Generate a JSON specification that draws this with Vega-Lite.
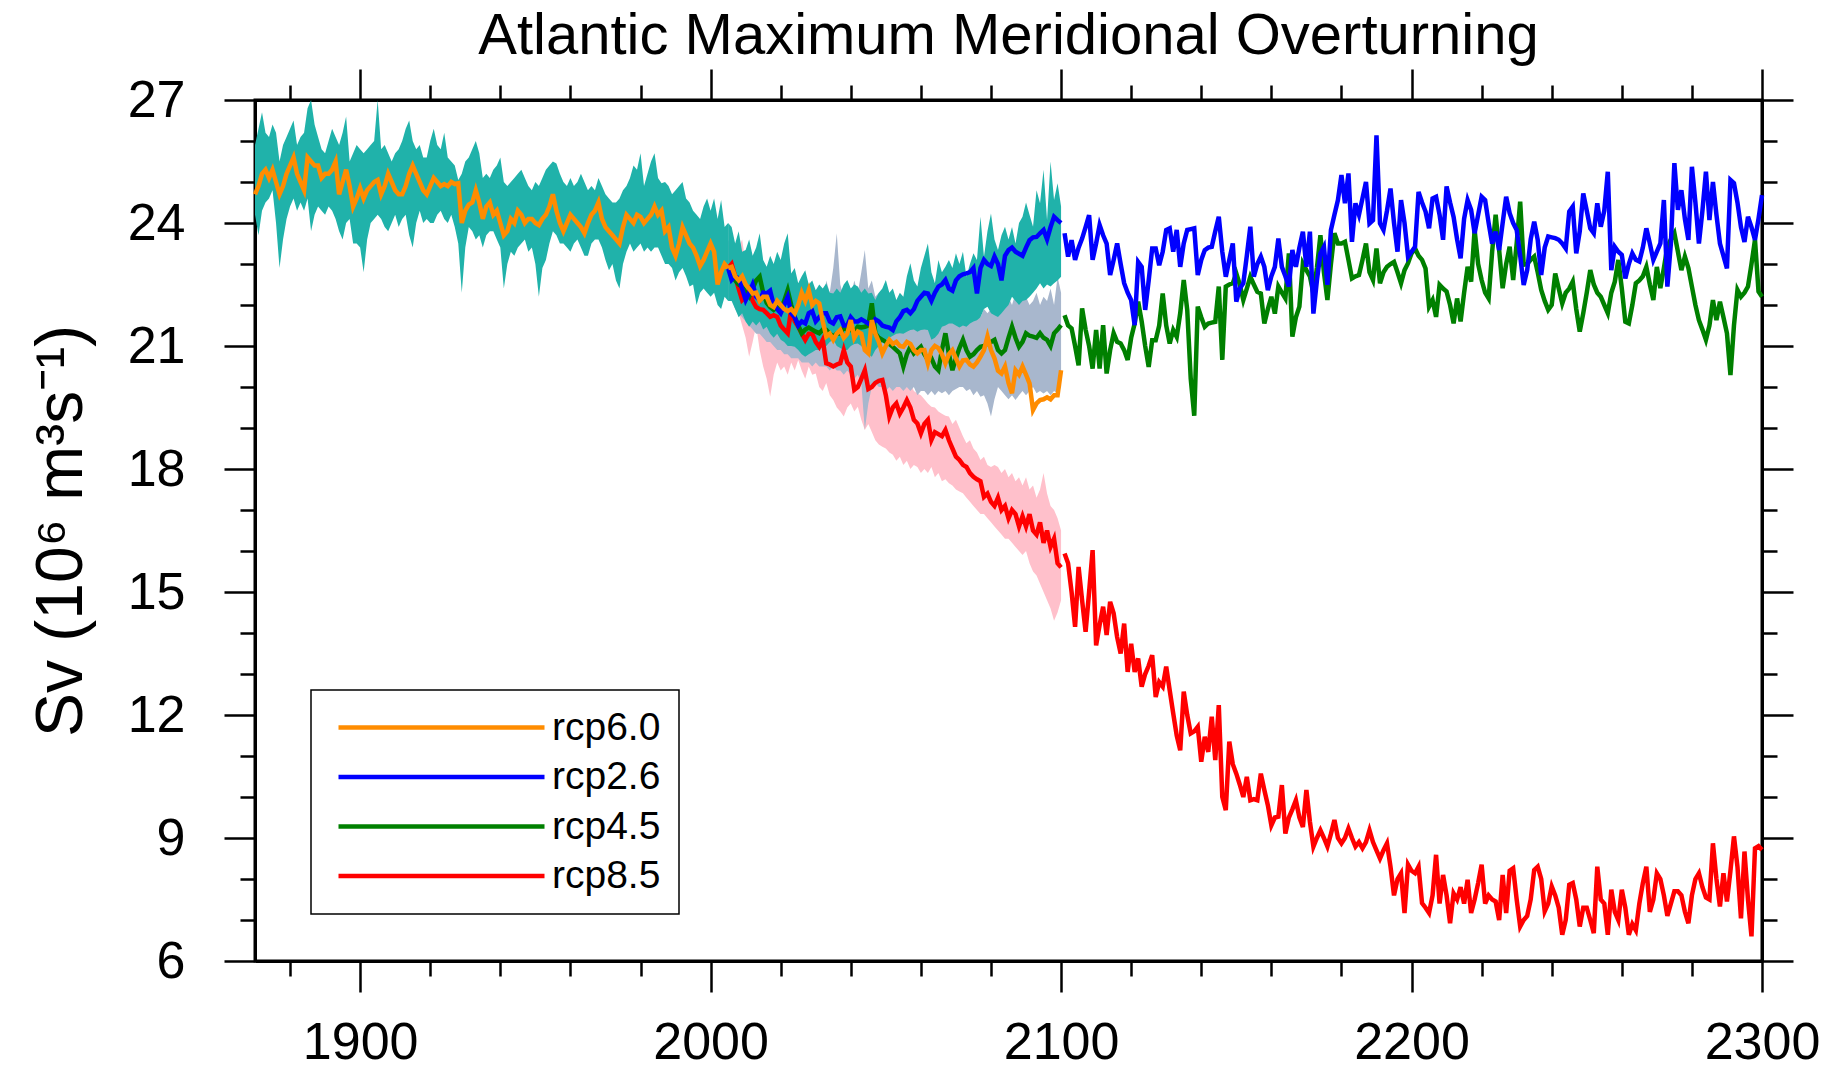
{
"$schema": "https://vega.github.io/schema/vega-lite/v6.json",
"width": 1507, "height": 861,
"autosize": "none",
"padding": {"left": 255, "top": 100, "right": 81, "bottom": 116},
"background": "white",
"config": {
  "font": "Liberation Sans",
  "view": {"stroke": "black", "strokeWidth": 3},
  "axis": {"grid": false, "domainColor": "black", "domainWidth": 3, "tickColor": "black", "tickWidth": 2.5, "labelColor": "black", "labelFont": "Liberation Sans", "labelFontSize": 52, "labelFlush": false, "labelOverlap": false, "labelBound": false, "titleFont": "Liberation Sans", "titleColor": "black", "titleFontWeight": "normal"}
},
"title": {"text": "Atlantic Maximum Meridional Overturning", "fontSize": 58, "font": "Liberation Sans", "fontWeight": "normal", "color": "black", "anchor": "middle", "frame": "group", "baseline": "alphabetic", "offset": -44},
"datasets": {
"hist": [
{"t":1870,"m":24.7,"lo":24.2,"hi":25.9},{"t":1871,"m":24.9,"lo":23.7,"hi":26.3},{"t":1872,"m":25.2,"lo":24.3,"hi":26.7},{"t":1873,"m":25.3,"lo":24.5,"hi":26.2},{"t":1874,"m":25.1,"lo":24.6,"hi":26.1},{"t":1875,"m":25.3,"lo":24.8,"hi":26.4},{"t":1876,"m":25.0,"lo":24.0,"hi":26.2},{"t":1877,"m":24.7,"lo":22.9,"hi":25.5},{"t":1878,"m":24.9,"lo":23.6,"hi":25.9},{"t":1879,"m":25.2,"lo":24.1,"hi":26.1},
{"t":1880,"m":25.4,"lo":24.4,"hi":26.3},{"t":1881,"m":25.6,"lo":24.6,"hi":26.5},{"t":1882,"m":25.2,"lo":24.3,"hi":25.9},{"t":1883,"m":25.0,"lo":24.5,"hi":26.1},{"t":1884,"m":24.8,"lo":24.3,"hi":26.2},{"t":1885,"m":25.6,"lo":24.6,"hi":26.8},{"t":1886,"m":25.5,"lo":23.8,"hi":27.0},{"t":1887,"m":25.4,"lo":24.2,"hi":26.4},{"t":1888,"m":25.4,"lo":24.4,"hi":26.1},{"t":1889,"m":25.1,"lo":24.3,"hi":25.8},
{"t":1890,"m":25.2,"lo":24.2,"hi":25.7},{"t":1891,"m":25.2,"lo":24.4,"hi":26.0},{"t":1892,"m":25.3,"lo":24.3,"hi":26.3},{"t":1893,"m":25.5,"lo":24.1,"hi":26.1},{"t":1894,"m":24.7,"lo":23.8,"hi":25.9},{"t":1895,"m":25.0,"lo":23.6,"hi":26.2},{"t":1896,"m":25.3,"lo":24.0,"hi":26.6},{"t":1897,"m":24.9,"lo":24.1,"hi":25.5},{"t":1898,"m":24.4,"lo":23.5,"hi":25.7},{"t":1899,"m":24.6,"lo":23.5,"hi":25.9},
{"t":1900,"m":24.85,"lo":23.4,"hi":25.8},{"t":1901,"m":24.6,"lo":22.8,"hi":25.7},{"t":1902,"m":24.8,"lo":23.6,"hi":25.8},{"t":1903,"m":24.9,"lo":24.0,"hi":25.9},{"t":1904,"m":25.0,"lo":24.1,"hi":26.0},{"t":1905,"m":25.05,"lo":24.2,"hi":27.0},{"t":1906,"m":24.7,"lo":24.1,"hi":25.8},{"t":1907,"m":24.9,"lo":23.9,"hi":25.9},{"t":1908,"m":25.2,"lo":23.8,"hi":25.7},{"t":1909,"m":25.0,"lo":24.0,"hi":25.5},
{"t":1910,"m":24.8,"lo":24.2,"hi":25.7},{"t":1911,"m":24.7,"lo":23.9,"hi":25.8},{"t":1912,"m":24.7,"lo":24.1,"hi":26.0},{"t":1913,"m":24.9,"lo":24.2,"hi":26.3},{"t":1914,"m":25.2,"lo":23.7,"hi":26.5},{"t":1915,"m":25.4,"lo":23.4,"hi":26.0},{"t":1916,"m":25.2,"lo":24.0,"hi":25.8},{"t":1917,"m":25.0,"lo":24.3,"hi":25.9},{"t":1918,"m":24.8,"lo":24.0,"hi":25.6},{"t":1919,"m":24.7,"lo":24.1,"hi":25.6},
{"t":1920,"m":24.9,"lo":24.0,"hi":26.0},{"t":1921,"m":25.1,"lo":24.0,"hi":26.3},{"t":1922,"m":25.0,"lo":24.2,"hi":25.9},{"t":1923,"m":24.9,"lo":24.3,"hi":25.8},{"t":1924,"m":24.95,"lo":24.1,"hi":26.2},{"t":1925,"m":24.9,"lo":24.0,"hi":25.6},{"t":1926,"m":25.0,"lo":24.2,"hi":25.5},{"t":1927,"m":24.95,"lo":23.9,"hi":25.4},{"t":1928,"m":24.97,"lo":23.5,"hi":25.05},{"t":1929,"m":24.0,"lo":22.3,"hi":25.2},
{"t":1930,"m":24.3,"lo":23.4,"hi":25.5},{"t":1931,"m":24.45,"lo":23.9,"hi":25.6},{"t":1932,"m":24.5,"lo":23.8,"hi":25.8},{"t":1933,"m":24.8,"lo":23.6,"hi":26.0},{"t":1934,"m":24.5,"lo":23.7,"hi":25.7},{"t":1935,"m":24.1,"lo":23.4,"hi":25.1},{"t":1936,"m":24.4,"lo":23.7,"hi":25.2},{"t":1937,"m":24.5,"lo":23.8,"hi":25.1},{"t":1938,"m":24.2,"lo":23.8,"hi":25.3},{"t":1939,"m":24.3,"lo":23.6,"hi":25.4},
{"t":1940,"m":24.0,"lo":23.4,"hi":25.6},{"t":1941,"m":23.7,"lo":22.4,"hi":25.0},{"t":1942,"m":23.8,"lo":23.0,"hi":24.9},{"t":1943,"m":24.1,"lo":23.3,"hi":25.0},{"t":1944,"m":24.0,"lo":23.2,"hi":25.1},{"t":1945,"m":24.3,"lo":23.4,"hi":25.2},{"t":1946,"m":24.2,"lo":23.5,"hi":25.3},{"t":1947,"m":24.0,"lo":23.6,"hi":25.1},{"t":1948,"m":24.1,"lo":23.3,"hi":24.9},{"t":1949,"m":24.1,"lo":23.4,"hi":24.8},
{"t":1950,"m":24.0,"lo":23.0,"hi":25.0},{"t":1951,"m":23.95,"lo":22.2,"hi":24.9},{"t":1952,"m":24.1,"lo":22.9,"hi":25.1},{"t":1953,"m":24.2,"lo":23.1,"hi":25.3},{"t":1954,"m":24.4,"lo":23.5,"hi":25.4},{"t":1955,"m":24.7,"lo":23.8,"hi":25.5},{"t":1956,"m":24.3,"lo":23.7,"hi":25.45},{"t":1957,"m":24.0,"lo":23.5,"hi":25.2},{"t":1958,"m":23.8,"lo":23.5,"hi":25.0},{"t":1959,"m":24.0,"lo":23.4,"hi":24.9},
{"t":1960,"m":24.2,"lo":23.3,"hi":25.1},{"t":1961,"m":24.1,"lo":23.5,"hi":24.9},{"t":1962,"m":24.0,"lo":23.6,"hi":25.0},{"t":1963,"m":23.9,"lo":23.4,"hi":25.2},{"t":1964,"m":23.75,"lo":23.2,"hi":25.0},{"t":1965,"m":24.0,"lo":23.2,"hi":24.8},{"t":1966,"m":24.2,"lo":23.5,"hi":24.9},{"t":1967,"m":24.3,"lo":23.6,"hi":24.8},{"t":1968,"m":24.5,"lo":23.6,"hi":25.1},{"t":1969,"m":24.1,"lo":23.4,"hi":24.9},
{"t":1970,"m":23.9,"lo":23.1,"hi":24.7},{"t":1971,"m":23.8,"lo":22.85,"hi":24.6},{"t":1972,"m":23.7,"lo":23.0,"hi":24.5},{"t":1973,"m":23.6,"lo":22.6,"hi":24.5},{"t":1974,"m":23.5,"lo":22.4,"hi":24.6},{"t":1975,"m":23.9,"lo":23.0,"hi":24.8},{"t":1976,"m":24.2,"lo":23.3,"hi":24.9},{"t":1977,"m":24.1,"lo":23.5,"hi":25.1},{"t":1978,"m":24.0,"lo":23.3,"hi":25.4},{"t":1979,"m":24.2,"lo":23.4,"hi":25.3},
{"t":1980,"m":24.15,"lo":23.5,"hi":25.7},{"t":1981,"m":24.0,"lo":23.3,"hi":24.9},{"t":1982,"m":24.1,"lo":23.4,"hi":25.2},{"t":1983,"m":24.2,"lo":23.3,"hi":25.5},{"t":1984,"m":24.4,"lo":23.4,"hi":25.7},{"t":1985,"m":24.2,"lo":23.4,"hi":25.1},{"t":1986,"m":24.3,"lo":23.2,"hi":24.97},{"t":1987,"m":23.8,"lo":23.0,"hi":25.0},{"t":1988,"m":23.9,"lo":23.0,"hi":24.9},{"t":1989,"m":23.4,"lo":22.9,"hi":24.7},
{"t":1990,"m":23.2,"lo":22.6,"hi":24.8},{"t":1991,"m":23.5,"lo":22.8,"hi":24.9},{"t":1992,"m":23.9,"lo":22.9,"hi":25.0},{"t":1993,"m":23.7,"lo":22.7,"hi":24.6},{"t":1994,"m":23.5,"lo":22.45,"hi":24.5},{"t":1995,"m":23.4,"lo":22.5,"hi":24.3},{"t":1996,"m":23.2,"lo":22.0,"hi":24.2},{"t":1997,"m":22.95,"lo":22.3,"hi":24.1},{"t":1998,"m":23.1,"lo":22.4,"hi":24.4},{"t":1999,"m":23.3,"lo":22.3,"hi":24.6},
{"t":2000,"m":23.5,"lo":22.2,"hi":24.3},{"t":2001,"m":23.3,"lo":22.3,"hi":24.6},{"t":2002,"m":22.5,"lo":22.0,"hi":24.1},{"t":2003,"m":22.8,"lo":21.9,"hi":24.56},{"t":2004,"m":23.0,"lo":22.2,"hi":23.9},{"t":2005,"m":22.9,"lo":22.1,"hi":24.0}
],
"rcp": [
{"t":2005,"o":22.9,"b":22.9,"blo":22.1,"bhi":24.0,"g":22.9,"glo":22.1,"ghi":23.6,"r":22.9,"rlo":22.2,"rhi":23.5},
{"t":2006,"o":22.93,"b":22.61,"blo":22.1,"bhi":23.9,"g":22.8,"glo":22.2,"ghi":23.4,"r":23.0,"rlo":22.5,"rhi":23.5},
{"t":2007,"o":22.7,"b":22.7,"blo":21.9,"bhi":23.5,"g":22.6,"glo":21.9,"ghi":23.2,"r":22.7,"rlo":22.0,"rhi":23.3},
{"t":2008,"o":22.6,"b":22.65,"blo":21.7,"bhi":23.8,"g":22.5,"glo":21.8,"ghi":23.0,"r":22.4,"rlo":21.8,"rhi":23.4},
{"t":2009,"o":22.7,"b":22.4,"blo":21.8,"bhi":23.3,"g":22.45,"glo":21.7,"ghi":23.1,"r":22.12,"rlo":21.5,"rhi":23.6},
{"t":2010,"o":22.5,"b":22.12,"blo":21.6,"bhi":23.34,"g":22.3,"glo":21.6,"ghi":22.9,"r":22.2,"rlo":21.2,"rhi":23.0},
{"t":2011,"o":22.4,"b":22.3,"blo":21.47,"bhi":23.6,"g":22.2,"glo":21.5,"ghi":22.8,"r":22.36,"rlo":20.74,"rhi":23.4},
{"t":2012,"o":22.28,"b":22.5,"blo":21.6,"bhi":23.2,"g":22.4,"glo":21.4,"ghi":22.9,"r":22.1,"rlo":21.1,"rhi":22.9},
{"t":2013,"o":22.3,"b":22.2,"blo":21.5,"bhi":23.4,"g":22.6,"glo":21.3,"ghi":22.7,"r":21.95,"rlo":21.5,"rhi":23.1},
{"t":2014,"o":22.1,"b":22.12,"blo":21.6,"bhi":23.75,"g":22.69,"glo":21.3,"ghi":22.6,"r":21.9,"rlo":20.9,"rhi":22.7},
{"t":2015,"o":22.2,"b":22.3,"blo":21.4,"bhi":23.1,"g":22.3,"glo":21.2,"ghi":22.5,"r":21.88,"rlo":20.5,"rhi":22.6},
{"t":2016,"o":22.2,"b":22.28,"blo":21.47,"bhi":22.93,"g":22.05,"glo":21.1,"ghi":22.7,"r":21.8,"rlo":20.2,"rhi":22.93},
{"t":2017,"o":22.0,"b":22.35,"blo":21.3,"bhi":23.2,"g":21.95,"glo":21.1,"ghi":22.4,"r":21.71,"rlo":19.76,"rhi":22.5},
{"t":2018,"o":21.95,"b":22.0,"blo":21.2,"bhi":23.0,"g":21.88,"glo":21.0,"ghi":22.5,"r":21.75,"rlo":20.3,"rhi":22.3},
{"t":2019,"o":22.1,"b":21.9,"blo":21.3,"bhi":23.3,"g":21.95,"glo":20.9,"ghi":22.3,"r":21.71,"rlo":20.6,"rhi":22.1},
{"t":2020,"o":22.0,"b":21.8,"blo":21.15,"bhi":23.1,"g":21.9,"glo":20.9,"ghi":22.6,"r":21.5,"rlo":20.4,"rhi":21.9},
{"t":2021,"o":21.9,"b":22.0,"blo":21.1,"bhi":23.5,"g":22.1,"glo":20.8,"ghi":22.4,"r":21.4,"rlo":20.5,"rhi":22.2},
{"t":2022,"o":21.85,"b":22.2,"blo":21.0,"bhi":23.75,"g":22.36,"glo":20.8,"ghi":22.3,"r":21.31,"rlo":20.3,"rhi":21.88},
{"t":2023,"o":21.9,"b":21.8,"blo":21.0,"bhi":22.77,"g":22.0,"glo":20.7,"ghi":22.2,"r":21.9,"rlo":20.6,"rhi":22.0},
{"t":2024,"o":21.8,"b":21.7,"blo":20.98,"bhi":22.9,"g":21.7,"glo":20.7,"ghi":22.5,"r":21.6,"rlo":20.4,"rhi":21.7},
{"t":2025,"o":22.0,"b":21.5,"blo":20.9,"bhi":22.53,"g":21.5,"glo":20.7,"ghi":22.3,"r":21.47,"rlo":20.66,"rhi":21.88},
{"t":2026,"o":22.3,"b":21.6,"blo":20.8,"bhi":22.7,"g":21.31,"glo":20.6,"ghi":22.1,"r":21.3,"rlo":20.4,"rhi":21.8},
{"t":2027,"o":22.1,"b":21.55,"blo":20.74,"bhi":22.85,"g":21.4,"glo":20.6,"ghi":22.4,"r":21.15,"rlo":20.2,"rhi":21.6},
{"t":2028,"o":22.36,"b":21.8,"blo":20.8,"bhi":22.5,"g":21.45,"glo":20.6,"ghi":22.2,"r":21.3,"rlo":20.5,"rhi":21.5},
{"t":2029,"o":22.0,"b":21.85,"blo":20.85,"bhi":22.6,"g":21.4,"glo":20.5,"ghi":22.0,"r":21.3,"rlo":20.3,"rhi":21.7},
{"t":2030,"o":22.1,"b":21.6,"blo":20.9,"bhi":22.36,"g":21.35,"glo":20.6,"ghi":22.3,"r":21.1,"rlo":20.33,"rhi":21.31},
{"t":2031,"o":22.04,"b":21.7,"blo":20.9,"bhi":22.5,"g":21.31,"glo":20.5,"ghi":22.1,"r":20.98,"rlo":20.0,"rhi":21.5},
{"t":2032,"o":21.6,"b":21.8,"blo":21.0,"bhi":22.4,"g":21.4,"glo":20.5,"ghi":21.9,"r":21.15,"rlo":19.9,"rhi":21.2},
{"t":2033,"o":21.23,"b":21.8,"blo":21.0,"bhi":22.53,"g":21.39,"glo":20.5,"ghi":22.6,"r":20.58,"rlo":20.1,"rhi":21.3},
{"t":2034,"o":21.3,"b":21.6,"blo":21.1,"bhi":22.3,"g":21.3,"glo":20.4,"ghi":22.3,"r":20.55,"rlo":19.8,"rhi":21.0},
{"t":2035,"o":21.15,"b":21.55,"blo":21.15,"bhi":22.28,"g":21.23,"glo":20.5,"ghi":22.9,"r":20.5,"rlo":19.68,"rhi":21.15},
{"t":2036,"o":21.3,"b":21.7,"blo":21.0,"bhi":22.4,"g":21.3,"glo":20.4,"ghi":23.75,"r":20.55,"rlo":19.5,"rhi":21.0},
{"t":2037,"o":21.39,"b":21.72,"blo":20.95,"bhi":22.3,"g":21.31,"glo":20.4,"ghi":22.5,"r":20.58,"rlo":19.4,"rhi":20.9},
{"t":2038,"o":21.2,"b":21.5,"blo":20.9,"bhi":22.5,"g":21.45,"glo":20.3,"ghi":22.2,"r":20.9,"rlo":19.28,"rhi":21.1},
{"t":2039,"o":21.3,"b":21.5,"blo":20.9,"bhi":22.61,"g":21.4,"glo":20.4,"ghi":22.4,"r":20.6,"rlo":19.5,"rhi":20.82},
{"t":2040,"o":21.63,"b":21.7,"blo":21.0,"bhi":22.4,"g":21.39,"glo":20.3,"ghi":22.2,"r":20.5,"rlo":19.6,"rhi":20.9},
{"t":2041,"o":21.2,"b":21.6,"blo":21.05,"bhi":22.5,"g":21.35,"glo":20.2,"ghi":22.6,"r":19.93,"rlo":19.4,"rhi":20.7},
{"t":2042,"o":21.35,"b":21.6,"blo":21.06,"bhi":22.45,"g":21.47,"glo":20.3,"ghi":22.3,"r":20.0,"rlo":19.52,"rhi":20.8},
{"t":2043,"o":21.3,"b":21.65,"blo":21.0,"bhi":22.3,"g":21.45,"glo":20.1,"ghi":22.8,"r":20.2,"rlo":19.2,"rhi":20.9},
{"t":2044,"o":20.9,"b":21.6,"blo":20.9,"bhi":22.4,"g":21.47,"glo":18.95,"ghi":23.34,"r":20.41,"rlo":18.95,"rhi":20.74},
{"t":2045,"o":20.82,"b":21.55,"blo":20.8,"bhi":22.28,"g":21.5,"glo":19.6,"ghi":22.4,"r":19.95,"rlo":19.1,"rhi":20.7},
{"t":2046,"o":21.63,"b":21.5,"blo":20.74,"bhi":22.3,"g":22.04,"glo":20.0,"ghi":22.6,"r":20.0,"rlo":18.9,"rhi":20.8},
{"t":2047,"o":21.3,"b":21.65,"blo":20.9,"bhi":22.12,"g":21.31,"glo":20.1,"ghi":22.2,"r":20.1,"rlo":18.7,"rhi":20.66},
{"t":2048,"o":21.1,"b":21.6,"blo":21.0,"bhi":22.3,"g":21.2,"glo":20.0,"ghi":22.3,"r":20.15,"rlo":18.6,"rhi":20.7},
{"t":2049,"o":20.82,"b":21.5,"blo":21.1,"bhi":22.4,"g":21.15,"glo":20.0,"ghi":22.1,"r":20.17,"rlo":18.54,"rhi":20.66},
{"t":2050,"o":21.0,"b":21.47,"blo":21.15,"bhi":22.61,"g":21.1,"glo":19.9,"ghi":22.2,"r":19.8,"rlo":18.5,"rhi":20.5},
{"t":2051,"o":21.15,"b":21.45,"blo":21.2,"bhi":22.3,"g":21.05,"glo":20.0,"ghi":22.0,"r":19.28,"rlo":18.4,"rhi":20.4},
{"t":2052,"o":21.05,"b":21.39,"blo":21.25,"bhi":22.4,"g":20.98,"glo":19.9,"ghi":22.1,"r":19.5,"rlo":18.35,"rhi":20.5},
{"t":2053,"o":21.1,"b":21.6,"blo":21.3,"bhi":22.12,"g":20.9,"glo":20.0,"ghi":22.0,"r":19.6,"rlo":18.2,"rhi":20.33},
{"t":2054,"o":21.0,"b":21.7,"blo":21.31,"bhi":22.3,"g":20.82,"glo":20.0,"ghi":22.1,"r":19.35,"rlo":18.3,"rhi":20.33},
{"t":2055,"o":20.98,"b":21.85,"blo":21.3,"bhi":22.2,"g":20.5,"glo":19.9,"ghi":22.1,"r":19.5,"rlo":18.1,"rhi":20.2},
{"t":2056,"o":21.1,"b":21.88,"blo":21.35,"bhi":22.7,"g":20.8,"glo":20.0,"ghi":21.9,"r":19.68,"rlo":18.2,"rhi":20.0},
{"t":2057,"o":21.05,"b":21.8,"blo":21.39,"bhi":23.02,"g":20.98,"glo":19.9,"ghi":22.0,"r":19.5,"rlo":18.0,"rhi":20.1},
{"t":2058,"o":20.9,"b":21.9,"blo":21.4,"bhi":22.6,"g":20.82,"glo":20.0,"ghi":21.8,"r":19.2,"rlo":18.1,"rhi":19.9},
{"t":2059,"o":20.82,"b":22.1,"blo":21.35,"bhi":22.45,"g":20.9,"glo":19.8,"ghi":22.0,"r":19.11,"rlo":18.05,"rhi":19.84},
{"t":2060,"o":20.9,"b":22.2,"blo":21.39,"bhi":22.9,"g":20.98,"glo":19.9,"ghi":21.9,"r":18.87,"rlo":17.9,"rhi":19.8},
{"t":2061,"o":20.9,"b":22.3,"blo":21.4,"bhi":23.2,"g":20.8,"glo":19.9,"ghi":21.8,"r":19.1,"rlo":18.0,"rhi":19.7},
{"t":2062,"o":20.58,"b":22.28,"blo":21.39,"bhi":23.5,"g":20.66,"glo":19.8,"ghi":22.0,"r":19.2,"rlo":17.9,"rhi":19.6},
{"t":2063,"o":20.9,"b":22.1,"blo":21.15,"bhi":22.8,"g":20.7,"glo":19.9,"ghi":21.8,"r":18.71,"rlo":18.05,"rhi":19.52},
{"t":2064,"o":21.0,"b":22.3,"blo":21.2,"bhi":22.53,"g":20.5,"glo":19.8,"ghi":21.9,"r":18.9,"rlo":17.8,"rhi":19.5},
{"t":2065,"o":20.95,"b":22.45,"blo":21.3,"bhi":23.1,"g":20.41,"glo":19.9,"ghi":22.0,"r":18.85,"rlo":17.9,"rhi":19.4},
{"t":2066,"o":20.8,"b":22.5,"blo":21.47,"bhi":22.8,"g":20.9,"glo":19.85,"ghi":22.1,"r":18.8,"rlo":17.7,"rhi":19.35},
{"t":2067,"o":20.58,"b":22.61,"blo":21.5,"bhi":22.93,"g":21.31,"glo":19.9,"ghi":22.2,"r":18.95,"rlo":17.75,"rhi":19.3},
{"t":2068,"o":20.8,"b":22.4,"blo":21.55,"bhi":23.1,"g":20.8,"glo":19.8,"ghi":21.9,"r":18.7,"rlo":17.65,"rhi":19.28},
{"t":2069,"o":20.9,"b":22.35,"blo":21.55,"bhi":22.9,"g":20.41,"glo":19.9,"ghi":22.1,"r":18.5,"rlo":17.6,"rhi":19.1},
{"t":2070,"o":20.7,"b":22.6,"blo":21.5,"bhi":23.26,"g":20.7,"glo":19.95,"ghi":22.2,"r":18.3,"rlo":17.5,"rhi":19.2},
{"t":2071,"o":20.5,"b":22.7,"blo":21.45,"bhi":23.0,"g":20.95,"glo":20.0,"ghi":22.0,"r":18.22,"rlo":17.45,"rhi":19.0},
{"t":2072,"o":20.65,"b":22.75,"blo":21.5,"bhi":23.3,"g":21.15,"glo":20.0,"ghi":22.3,"r":18.1,"rlo":17.41,"rhi":18.8},
{"t":2073,"o":20.66,"b":22.77,"blo":21.47,"bhi":22.69,"g":20.9,"glo":19.9,"ghi":22.2,"r":18.05,"rlo":17.3,"rhi":18.63},
{"t":2074,"o":20.55,"b":22.8,"blo":21.55,"bhi":23.0,"g":20.74,"glo":19.95,"ghi":22.0,"r":17.9,"rlo":17.2,"rhi":18.7},
{"t":2075,"o":20.5,"b":22.9,"blo":21.6,"bhi":23.26,"g":20.8,"glo":19.8,"ghi":21.8,"r":17.81,"rlo":17.1,"rhi":18.5},
{"t":2076,"o":20.6,"b":22.28,"blo":21.63,"bhi":23.1,"g":20.9,"glo":19.9,"ghi":21.7,"r":17.75,"rlo":17.0,"rhi":18.4},
{"t":2077,"o":20.74,"b":22.9,"blo":21.7,"bhi":24.15,"g":20.98,"glo":19.76,"ghi":21.7,"r":17.7,"rlo":16.9,"rhi":18.22},
{"t":2078,"o":20.9,"b":23.1,"blo":21.9,"bhi":23.18,"g":21.0,"glo":19.8,"ghi":21.9,"r":17.32,"rlo":16.9,"rhi":18.3},
{"t":2079,"o":21.23,"b":23.0,"blo":21.96,"bhi":23.8,"g":21.06,"glo":19.6,"ghi":21.8,"r":17.4,"rlo":16.8,"rhi":18.1},
{"t":2080,"o":20.9,"b":22.95,"blo":21.8,"bhi":24.23,"g":21.1,"glo":19.28,"ghi":21.9,"r":17.2,"rlo":16.7,"rhi":18.05},
{"t":2081,"o":20.7,"b":23.18,"blo":21.75,"bhi":23.6,"g":21.15,"glo":19.7,"ghi":22.0,"r":17.1,"rlo":16.6,"rhi":18.1},
{"t":2082,"o":20.4,"b":23.0,"blo":21.71,"bhi":23.34,"g":20.9,"glo":20.0,"ghi":22.2,"r":17.3,"rlo":16.5,"rhi":18.05},
{"t":2083,"o":20.33,"b":22.6,"blo":21.8,"bhi":23.7,"g":20.82,"glo":19.9,"ghi":22.3,"r":17.0,"rlo":16.4,"rhi":17.9},
{"t":2084,"o":20.5,"b":23.2,"blo":21.9,"bhi":23.91,"g":20.9,"glo":19.8,"ghi":22.45,"r":17.1,"rlo":16.3,"rhi":18.0},
{"t":2085,"o":20.1,"b":23.34,"blo":22.0,"bhi":23.6,"g":21.2,"glo":19.7,"ghi":22.2,"r":16.8,"rlo":16.3,"rhi":17.8},
{"t":2086,"o":19.85,"b":23.4,"blo":22.2,"bhi":23.9,"g":21.47,"glo":19.8,"ghi":22.0,"r":17.0,"rlo":16.2,"rhi":17.9},
{"t":2087,"o":20.41,"b":23.3,"blo":22.1,"bhi":23.5,"g":21.2,"glo":19.68,"ghi":22.3,"r":16.9,"rlo":16.1,"rhi":17.7},
{"t":2088,"o":20.3,"b":23.25,"blo":22.0,"bhi":24.0,"g":20.98,"glo":19.8,"ghi":22.4,"r":16.6,"rlo":16.0,"rhi":17.8},
{"t":2089,"o":20.5,"b":23.2,"blo":22.1,"bhi":24.15,"g":21.1,"glo":19.9,"ghi":22.1,"r":16.85,"rlo":15.9,"rhi":17.6},
{"t":2090,"o":20.3,"b":23.4,"blo":22.12,"bhi":24.5,"g":21.31,"glo":19.8,"ghi":22.2,"r":16.6,"rlo":16.0,"rhi":17.8},
{"t":2091,"o":20.09,"b":23.58,"blo":22.2,"bhi":24.2,"g":21.25,"glo":19.9,"ghi":22.0,"r":16.9,"rlo":15.7,"rhi":17.5},
{"t":2092,"o":19.44,"b":23.65,"blo":22.3,"bhi":23.91,"g":21.23,"glo":20.0,"ghi":22.1,"r":16.5,"rlo":15.5,"rhi":17.6},
{"t":2093,"o":19.6,"b":23.66,"blo":22.4,"bhi":24.8,"g":21.2,"glo":19.85,"ghi":22.3,"r":16.4,"rlo":15.4,"rhi":17.3},
{"t":2094,"o":19.68,"b":23.75,"blo":22.53,"bhi":24.48,"g":21.31,"glo":19.9,"ghi":22.0,"r":16.7,"rlo":15.2,"rhi":17.5},
{"t":2095,"o":19.7,"b":23.83,"blo":22.4,"bhi":25.3,"g":21.2,"glo":19.84,"ghi":22.2,"r":16.2,"rlo":15.0,"rhi":17.9},
{"t":2096,"o":19.75,"b":23.6,"blo":22.5,"bhi":24.07,"g":21.15,"glo":19.9,"ghi":22.1,"r":16.5,"rlo":14.8,"rhi":17.4},
{"t":2097,"o":19.7,"b":23.9,"blo":22.45,"bhi":25.5,"g":21.0,"glo":19.8,"ghi":22.4,"r":16.1,"rlo":14.6,"rhi":17.1},
{"t":2098,"o":19.8,"b":24.15,"blo":22.53,"bhi":24.56,"g":21.31,"glo":19.9,"ghi":22.0,"r":16.3,"rlo":14.3,"rhi":17.0},
{"t":2099,"o":19.8,"b":24.07,"blo":22.6,"bhi":24.97,"g":21.4,"glo":19.85,"ghi":22.69,"r":15.7,"rlo":14.5,"rhi":16.8},
{"t":2100,"o":20.41,"b":24.0,"blo":22.69,"bhi":24.4,"g":21.51,"glo":20.0,"ghi":22.3,"r":15.6,"rlo":14.8,"rhi":16.5}
],
"ext": [
{"t":2101,"b":23.75,"g":21.75,"r":15.94},{"t":2102,"b":23.18,"g":21.5,"r":15.7},{"t":2103,"b":23.58,"g":21.43,"r":15.0},{"t":2104,"b":23.1,"g":21.0,"r":14.15},{"t":2105,"b":23.4,"g":20.53,"r":15.61},{"t":2106,"b":23.62,"g":21.92,"r":14.8},{"t":2107,"b":23.9,"g":21.4,"r":14.03},{"t":2108,"b":24.19,"g":21.0,"r":15.0},{"t":2109,"b":23.1,"g":20.45,"r":16.02},{"t":2110,"b":23.5,"g":21.39,"r":13.7},
{"t":2111,"b":23.95,"g":20.45,"r":14.2},{"t":2112,"b":23.7,"g":21.51,"r":14.64},{"t":2113,"b":23.5,"g":20.33,"r":13.95},{"t":2114,"b":22.73,"g":20.9,"r":14.76},{"t":2115,"b":23.1,"g":21.31,"r":14.48},{"t":2116,"b":23.5,"g":21.1,"r":13.9},{"t":2117,"b":23.0,"g":21.06,"r":13.5},{"t":2118,"b":22.53,"g":20.9,"r":14.23},{"t":2119,"b":22.3,"g":20.66,"r":13.05},{"t":2120,"b":22.12,"g":21.2,"r":13.74},
{"t":2121,"b":21.51,"g":21.55,"r":13.05},{"t":2122,"b":23.05,"g":22.08,"r":13.38},{"t":2123,"b":22.93,"g":21.6,"r":12.69},{"t":2124,"b":21.88,"g":21.0,"r":13.0},{"t":2125,"b":22.6,"g":20.49,"r":13.2},{"t":2126,"b":23.38,"g":21.14,"r":13.46},{"t":2127,"b":23.38,"g":21.14,"r":12.44},{"t":2128,"b":22.97,"g":21.5,"r":12.8},{"t":2129,"b":23.3,"g":22.28,"r":12.69},{"t":2130,"b":23.83,"g":21.5,"r":13.18},
{"t":2131,"b":23.87,"g":21.06,"r":12.6},{"t":2132,"b":23.3,"g":21.39,"r":12.04},{"t":2133,"b":23.83,"g":21.22,"r":11.5},{"t":2134,"b":22.93,"g":21.8,"r":11.14},{"t":2135,"b":23.5,"g":22.61,"r":12.57},{"t":2136,"b":23.83,"g":21.88,"r":12.0},{"t":2137,"b":23.85,"g":20.2,"r":11.55},{"t":2138,"b":23.87,"g":19.3,"r":11.6},{"t":2139,"b":22.73,"g":21.96,"r":11.71},{"t":2140,"b":23.1,"g":21.7,"r":10.86},
{"t":2141,"b":23.34,"g":21.47,"r":11.47},{"t":2142,"b":23.4,"g":21.55,"r":11.1},{"t":2143,"b":23.42,"g":21.57,"r":11.96},{"t":2144,"b":23.8,"g":21.59,"r":10.9},{"t":2145,"b":24.15,"g":22.45,"r":12.24},{"t":2146,"b":23.3,"g":20.66,"r":10.0},{"t":2147,"b":22.69,"g":22.45,"r":9.68},{"t":2148,"b":23.1,"g":22.5,"r":11.35},{"t":2149,"b":23.5,"g":22.53,"r":10.8},{"t":2150,"b":22.08,"g":22.77,"r":10.57},
{"t":2151,"b":22.4,"g":22.5,"r":10.3},{"t":2152,"b":22.53,"g":22.12,"r":10.0},{"t":2153,"b":23.2,"g":22.4,"r":10.49},{"t":2154,"b":23.91,"g":22.69,"r":9.92},{"t":2155,"b":22.69,"g":22.5,"r":9.95},{"t":2156,"b":23.0,"g":22.32,"r":9.92},{"t":2157,"b":23.18,"g":22.28,"r":10.57},{"t":2158,"b":22.93,"g":21.55,"r":10.17},{"t":2159,"b":22.36,"g":21.9,"r":9.8},{"t":2160,"b":22.7,"g":22.2,"r":9.31},
{"t":2161,"b":22.93,"g":21.79,"r":9.5},{"t":2162,"b":23.62,"g":22.45,"r":9.52},{"t":2163,"b":22.93,"g":22.3,"r":10.29},{"t":2164,"b":22.7,"g":22.16,"r":9.11},{"t":2165,"b":22.45,"g":23.26,"r":9.5},{"t":2166,"b":23.34,"g":21.23,"r":9.7},{"t":2167,"b":22.93,"g":21.7,"r":9.92},{"t":2168,"b":23.4,"g":21.96,"r":9.5},{"t":2169,"b":23.79,"g":23.01,"r":9.27},{"t":2170,"b":22.93,"g":22.85,"r":10.17},
{"t":2171,"b":23.79,"g":22.7,"r":9.4},{"t":2172,"b":21.79,"g":22.28,"r":8.79},{"t":2173,"b":22.6,"g":22.9,"r":9.0},{"t":2174,"b":23.26,"g":23.7,"r":9.19},{"t":2175,"b":23.42,"g":22.8,"r":9.0},{"t":2176,"b":22.49,"g":22.12,"r":8.79},{"t":2177,"b":23.83,"g":23.0,"r":9.1},{"t":2178,"b":24.2,"g":23.75,"r":9.44},{"t":2179,"b":24.56,"g":23.5,"r":9.0},{"t":2180,"b":25.17,"g":23.5,"r":8.87},
{"t":2181,"b":24.48,"g":23.54,"r":9.0},{"t":2182,"b":25.21,"g":23.1,"r":9.23},{"t":2183,"b":23.54,"g":22.65,"r":9.0},{"t":2184,"b":24.48,"g":22.7,"r":8.79},{"t":2185,"b":24.2,"g":22.73,"r":8.9},{"t":2186,"b":24.6,"g":23.1,"r":8.75},{"t":2187,"b":25.0,"g":23.5,"r":8.9},{"t":2188,"b":23.99,"g":22.8,"r":9.19},{"t":2189,"b":24.07,"g":22.61,"r":8.9},{"t":2190,"b":26.14,"g":23.38,"r":8.7},
{"t":2191,"b":23.99,"g":22.53,"r":8.5},{"t":2192,"b":23.83,"g":22.8,"r":8.7},{"t":2193,"b":24.3,"g":22.93,"r":8.87},{"t":2194,"b":24.84,"g":23.0,"r":8.3},{"t":2195,"b":24.0,"g":23.05,"r":7.6},{"t":2196,"b":23.3,"g":22.8,"r":8.0},{"t":2197,"b":24.56,"g":22.53,"r":8.14},{"t":2198,"b":24.0,"g":22.85,"r":7.17},{"t":2199,"b":23.18,"g":23.02,"r":8.35},{"t":2200,"b":23.3,"g":23.26,"r":8.2},
{"t":2201,"b":23.42,"g":23.38,"r":8.14},{"t":2202,"b":24.76,"g":23.2,"r":8.3},{"t":2203,"b":24.5,"g":23.1,"r":7.41},{"t":2204,"b":24.28,"g":22.89,"r":7.3},{"t":2205,"b":23.87,"g":21.96,"r":7.17},{"t":2206,"b":24.6,"g":22.12,"r":7.6},{"t":2207,"b":24.64,"g":21.71,"r":8.59},{"t":2208,"b":24.2,"g":22.49,"r":7.4},{"t":2209,"b":23.59,"g":22.4,"r":8.1},{"t":2210,"b":24.89,"g":22.33,"r":7.6},
{"t":2211,"b":24.5,"g":22.0,"r":6.92},{"t":2212,"b":24.15,"g":21.55,"r":7.65},{"t":2213,"b":23.6,"g":22.16,"r":7.5},{"t":2214,"b":23.14,"g":21.6,"r":7.8},{"t":2215,"b":24.1,"g":22.3,"r":7.4},{"t":2216,"b":24.56,"g":22.93,"r":7.98},{"t":2217,"b":24.32,"g":22.57,"r":7.17},{"t":2218,"b":23.75,"g":23.83,"r":7.5},{"t":2219,"b":24.2,"g":23.0,"r":7.9},{"t":2220,"b":24.64,"g":22.61,"r":8.35},
{"t":2221,"b":24.56,"g":22.3,"r":7.4},{"t":2222,"b":24.0,"g":22.16,"r":7.6},{"t":2223,"b":23.5,"g":23.3,"r":7.5},{"t":2224,"b":23.79,"g":24.2,"r":7.45},{"t":2225,"b":23.34,"g":23.34,"r":7.0},{"t":2226,"b":24.0,"g":22.41,"r":8.1},{"t":2227,"b":24.64,"g":23.0,"r":7.17},{"t":2228,"b":24.24,"g":23.42,"r":8.2},{"t":2229,"b":24.0,"g":22.61,"r":8.26},{"t":2230,"b":23.83,"g":23.5,"r":7.5},
{"t":2231,"b":23.2,"g":24.52,"r":6.84},{"t":2232,"b":22.49,"g":22.98,"r":7.0},{"t":2233,"b":22.85,"g":23.0,"r":7.1},{"t":2234,"b":23.6,"g":23.1,"r":7.5},{"t":2235,"b":24.03,"g":23.18,"r":8.22},{"t":2236,"b":23.59,"g":22.8,"r":8.3},{"t":2237,"b":22.73,"g":22.37,"r":8.0},{"t":2238,"b":23.4,"g":22.1,"r":7.21},{"t":2239,"b":23.67,"g":21.88,"r":7.4},{"t":2240,"b":23.65,"g":22.0,"r":7.82},
{"t":2241,"b":23.63,"g":22.77,"r":7.6},{"t":2242,"b":23.59,"g":22.4,"r":7.3},{"t":2243,"b":23.5,"g":22.04,"r":6.64},{"t":2244,"b":23.38,"g":22.3,"r":7.0},{"t":2245,"b":24.28,"g":22.4,"r":7.86},{"t":2246,"b":24.4,"g":22.57,"r":7.9},{"t":2247,"b":23.26,"g":21.9,"r":7.5},{"t":2248,"b":23.8,"g":21.35,"r":6.84},{"t":2249,"b":24.72,"g":21.8,"r":7.3},{"t":2250,"b":24.3,"g":22.3,"r":7.3},
{"t":2251,"b":23.87,"g":22.85,"r":7.0},{"t":2252,"b":23.75,"g":22.5,"r":6.68},{"t":2253,"b":24.48,"g":22.3,"r":8.3},{"t":2254,"b":23.91,"g":22.2,"r":7.5},{"t":2255,"b":24.3,"g":22.0,"r":7.4},{"t":2256,"b":25.25,"g":21.8,"r":6.64},{"t":2257,"b":22.85,"g":22.3,"r":7.74},{"t":2258,"b":23.42,"g":22.57,"r":7.2},{"t":2259,"b":23.3,"g":23.1,"r":7.0},{"t":2260,"b":23.22,"g":22.4,"r":7.74},
{"t":2261,"b":22.65,"g":21.59,"r":7.3},{"t":2262,"b":23.0,"g":21.55,"r":6.64},{"t":2263,"b":23.26,"g":22.0,"r":6.9},{"t":2264,"b":23.1,"g":22.53,"r":6.75},{"t":2265,"b":23.06,"g":22.6,"r":7.4},{"t":2266,"b":23.4,"g":22.7,"r":7.9},{"t":2267,"b":23.87,"g":22.93,"r":8.3},{"t":2268,"b":23.5,"g":22.5,"r":7.2},{"t":2269,"b":23.1,"g":22.12,"r":7.5},{"t":2270,"b":23.3,"g":22.93,"r":8.14},
{"t":2271,"b":23.5,"g":22.41,"r":8.0},{"t":2272,"b":24.56,"g":22.9,"r":7.6},{"t":2273,"b":22.45,"g":23.42,"r":7.1},{"t":2274,"b":23.5,"g":23.6,"r":7.4},{"t":2275,"b":25.46,"g":23.75,"r":7.7},{"t":2276,"b":24.32,"g":23.3,"r":7.7},{"t":2277,"b":24.8,"g":22.85,"r":7.6},{"t":2278,"b":24.1,"g":23.18,"r":7.2},{"t":2279,"b":23.59,"g":22.9,"r":6.92},{"t":2280,"b":25.37,"g":22.45,"r":7.6},
{"t":2281,"b":24.5,"g":22.0,"r":8.0},{"t":2282,"b":23.5,"g":21.63,"r":8.14},{"t":2283,"b":24.3,"g":21.4,"r":7.8},{"t":2284,"b":25.25,"g":21.15,"r":7.55},{"t":2285,"b":24.07,"g":21.5,"r":7.5},{"t":2286,"b":25.0,"g":22.12,"r":8.87},{"t":2287,"b":24.2,"g":21.63,"r":8.0},{"t":2288,"b":23.5,"g":22.08,"r":7.33},{"t":2289,"b":23.2,"g":21.7,"r":8.14},{"t":2290,"b":22.89,"g":21.31,"r":7.45},
{"t":2291,"b":25.05,"g":20.29,"r":8.2},{"t":2292,"b":24.97,"g":21.5,"r":9.04},{"t":2293,"b":24.5,"g":22.37,"r":8.3},{"t":2294,"b":23.9,"g":22.2,"r":7.04},{"t":2295,"b":23.54,"g":22.3,"r":8.67},{"t":2296,"b":24.15,"g":22.45,"r":7.5},{"t":2297,"b":23.9,"g":23.0,"r":6.6},{"t":2298,"b":23.59,"g":23.59,"r":8.75},{"t":2299,"b":24.1,"g":22.33,"r":8.8},{"t":2300,"b":24.68,"g":22.2,"r":8.71}
]
},
"layer": [
{"data": {"name": "rcp"}, "mark": {"type": "area", "color": "#ffc0cb", "opacity": 1},
 "encoding": {
  "x": {"field": "t", "type": "quantitative", "scale": {"domain": [1870, 2300], "nice": false, "zero": false}, "axis": {"orient": "top", "values": [1900, 2000, 2100, 2200, 2300], "labels": false, "tickSize": 31, "title": null}},
  "y": {"field": "rlo", "type": "quantitative", "scale": {"domain": [6, 27], "nice": false, "zero": false}, "axis": {"orient": "right", "values": [6, 9, 12, 15, 18, 21, 24, 27], "labels": false, "tickSize": 31, "title": null}},
  "y2": {"field": "rhi"}}},
{"data": {"name": "rcp"}, "mark": {"type": "area", "color": "#a8b7cd", "opacity": 1},
 "encoding": {
  "x": {"field": "t", "type": "quantitative", "scale": {"domain": [1870, 2300], "nice": false, "zero": false}, "axis": {"orient": "bottom", "values": [1880, 1920, 1940, 1960, 1980, 2020, 2040, 2060, 2080, 2120, 2140, 2160, 2180, 2220, 2240, 2260, 2280], "labels": false, "tickSize": 15, "domain": false, "title": null}},
  "y": {"field": "glo", "type": "quantitative", "scale": {"domain": [6, 27], "nice": false, "zero": false}, "axis": {"orient": "left", "values": [7, 8, 10, 11, 13, 14, 16, 17, 19, 20, 22, 23, 25, 26], "labels": false, "tickSize": 15, "domain": false, "title": null}},
  "y2": {"field": "ghi"}}},
{"data": {"name": "rcp"}, "mark": {"type": "area", "color": "#20b2aa", "opacity": 1},
 "encoding": {
  "x": {"field": "t", "type": "quantitative", "scale": {"domain": [1870, 2300], "nice": false, "zero": false}, "axis": {"orient": "top", "values": [1880, 1920, 1940, 1960, 1980, 2020, 2040, 2060, 2080, 2120, 2140, 2160, 2180, 2220, 2240, 2260, 2280], "labels": false, "tickSize": 15, "domain": false, "title": null}},
  "y": {"field": "blo", "type": "quantitative", "scale": {"domain": [6, 27], "nice": false, "zero": false}, "axis": {"orient": "right", "values": [7, 8, 10, 11, 13, 14, 16, 17, 19, 20, 22, 23, 25, 26], "labels": false, "tickSize": 15, "domain": false, "title": null}},
  "y2": {"field": "bhi"}}},
{"data": {"name": "hist"}, "mark": {"type": "area", "color": "#20b2aa", "opacity": 1},
 "encoding": {
  "x": {"field": "t", "type": "quantitative", "scale": {"domain": [1870, 2300], "nice": false, "zero": false}, "axis": {"orient": "bottom", "values": [1900, 2000, 2100, 2200, 2300], "tickSize": 31, "labelPadding": 25, "format": "d", "title": null}},
  "y": {"field": "lo", "type": "quantitative", "scale": {"domain": [6, 27], "nice": false, "zero": false}, "axis": {"orient": "left", "values": [6, 9, 12, 15, 18, 21, 24, 27], "tickSize": 31, "labelPadding": 39, "title": "Sv (10⁶ m³s⁻¹)", "titleFontSize": 66, "titlePadding": 32}},
  "y2": {"field": "hi"}}},
{"data": {"name": "rcp"}, "mark": {"type": "line", "strokeWidth": 4.5},
 "encoding": {
  "x": {"field": "t", "type": "quantitative", "scale": {"domain": [1870, 2300], "nice": false, "zero": false}, "axis": null},
  "y": {"field": "r", "type": "quantitative", "scale": {"domain": [6, 27], "nice": false, "zero": false}, "axis": null},
  "color": {"datum": "rcp8.5", "type": "nominal", "scale": {"domain": ["rcp6.0", "rcp2.6", "rcp4.5", "rcp8.5"], "range": ["#ff8c00", "#0000ff", "#008000", "#ff0000"]},
   "legend": {"orient": "none", "legendX": 56, "legendY": 590, "title": null, "symbolType": "M-1,0H19.6", "symbolSize": 400, "symbolStrokeWidth": 4.5, "labelFontSize": 39, "labelFont": "Liberation Sans", "labelColor": "black", "labelOffset": 184, "padding": 18, "rowPadding": 9.5, "strokeColor": "black", "fillColor": "white",
     "encode": {"legend": {"update": {"strokeWidth": {"value": 1.5}}}}}}}},
{"data": {"name": "rcp"}, "mark": {"type": "line", "strokeWidth": 4.5},
 "encoding": {
  "x": {"field": "t", "type": "quantitative", "axis": null},
  "y": {"field": "g", "type": "quantitative", "axis": null},
  "color": {"datum": "rcp4.5", "type": "nominal"}}},
{"data": {"name": "rcp"}, "mark": {"type": "line", "strokeWidth": 4.5},
 "encoding": {
  "x": {"field": "t", "type": "quantitative", "axis": null},
  "y": {"field": "b", "type": "quantitative", "axis": null},
  "color": {"datum": "rcp2.6", "type": "nominal"}}},
{"data": {"name": "hist"}, "mark": {"type": "line", "strokeWidth": 4.5},
 "encoding": {
  "x": {"field": "t", "type": "quantitative", "axis": null},
  "y": {"field": "m", "type": "quantitative", "axis": null},
  "color": {"datum": "rcp6.0", "type": "nominal"}}},
{"data": {"name": "rcp"}, "mark": {"type": "line", "strokeWidth": 4.5},
 "encoding": {
  "x": {"field": "t", "type": "quantitative", "axis": null},
  "y": {"field": "o", "type": "quantitative", "axis": null},
  "color": {"datum": "rcp6.0", "type": "nominal"}}},
{"data": {"name": "ext"}, "mark": {"type": "line", "strokeWidth": 4.5},
 "encoding": {
  "x": {"field": "t", "type": "quantitative", "axis": null},
  "y": {"field": "r", "type": "quantitative", "axis": null},
  "color": {"datum": "rcp8.5", "type": "nominal"}}},
{"data": {"name": "ext"}, "mark": {"type": "line", "strokeWidth": 4.5},
 "encoding": {
  "x": {"field": "t", "type": "quantitative", "axis": null},
  "y": {"field": "g", "type": "quantitative", "axis": null},
  "color": {"datum": "rcp4.5", "type": "nominal"}}},
{"data": {"name": "ext"}, "mark": {"type": "line", "strokeWidth": 4.5},
 "encoding": {
  "x": {"field": "t", "type": "quantitative", "axis": null},
  "y": {"field": "b", "type": "quantitative", "axis": null},
  "color": {"datum": "rcp2.6", "type": "nominal"}}}
],
"resolve": {"axis": {"x": "independent", "y": "independent"}}
}
